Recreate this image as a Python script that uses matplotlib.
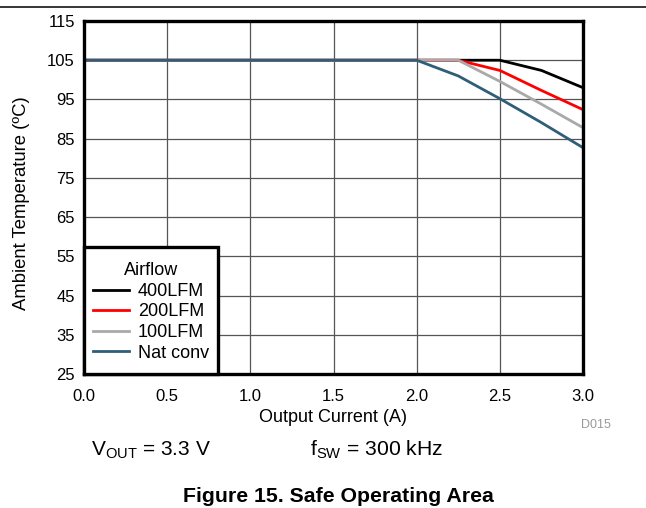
import matplotlib
matplotlib.use("Agg")
import matplotlib.pyplot as plt
from matplotlib.lines import Line2D
from matplotlib.patches import Rectangle

plt.rcParams["font.family"] = ["Liberation Sans", "DejaVu Sans"]

# output current (A) and ambient temperature limit per airflow
current_400 = [0.0, 2.5, 2.75, 3.0]
temp_400 = [105, 105, 102.4, 98.0]
current_200 = [0.0, 2.25, 2.5, 2.75, 3.0]
temp_200 = [105, 105, 102.4, 97.3, 92.4]
current_100 = [0.0, 2.25, 2.5, 2.75, 3.0]
temp_100 = [105, 105, 99.6, 93.8, 87.8]
current_nat = [0.0, 2.0, 2.25, 2.5, 2.75, 3.0]
temp_nat = [105, 105, 101.0, 95.2, 89.1, 82.7]

series_labels = ["400LFM", "200LFM", "100LFM", "Nat conv"]
series_colors = ["#000000", "#FF0000", "#A9A9A9", "#2E5E78"]

x_ticks = [0.0, 0.5, 1.0, 1.5, 2.0, 2.5, 3.0]
y_ticks = [25, 35, 45, 55, 65, 75, 85, 95, 105, 115]

W, H = 646, 508
fig = plt.figure(figsize=(W / 100, H / 100), dpi=100)
fig.patch.set_facecolor("white")

ax_l, ax_r, ax_t, ax_b = 84, 583, 21, 374
ax = fig.add_axes([ax_l / W, 1 - ax_b / H, (ax_r - ax_l) / W, (ax_b - ax_t) / H])


def ax_xy(px, py):
    # pixel position in the figure -> axes fraction
    return (px - ax_l) / (ax_r - ax_l), (ax_b - py) / (ax_b - ax_t)


series = [(current_400, temp_400), (current_200, temp_200),
          (current_100, temp_100), (current_nat, temp_nat)]
for i, ((xs, ys), lab, col) in enumerate(zip(series, series_labels, series_colors)):
    ax.plot(xs, ys, color=col, lw=2.0, label=lab, zorder=3 + i, solid_capstyle="butt")

ax.set_xlim(0, 3)
ax.set_ylim(25, 115)
ax.set_xticks(x_ticks)
ax.set_yticks(y_ticks)
ax.set_xticklabels([f"{v:.1f}" for v in x_ticks])
ax.set_yticklabels([str(v) for v in y_ticks])
ax.tick_params(length=0, labelsize=12)
ax.tick_params(axis="x", pad=11)
ax.tick_params(axis="y", pad=6.5)
ax.grid(True, color="#555555", lw=0.9, zorder=1)
for sp in ax.spines.values():
    sp.set_linewidth(2.4)
    sp.set_color("black")
    sp.set_zorder(10)

ax.set_xlabel("Output Current (A)", fontsize=13, va="baseline")
ax.xaxis.set_label_coords(*ax_xy(333, 421.5))
ax.set_ylabel("Ambient Temperature (ºC)", fontsize=13.3, va="center")
ax.yaxis.set_label_coords(*ax_xy(22, 203))

# legend box drawn by hand so its size matches, entries placed inside
fx0, fy0 = ax_xy(84, 374)
fx1, fy1 = ax_xy(218, 247)
ax.add_patch(Rectangle((fx0, fy0), fx1 - fx0, fy1 - fy0, transform=ax.transAxes,
                       facecolor="white", edgecolor="black", lw=2.4,
                       clip_on=False, zorder=20))
handles = [Line2D([], [], color=c, lw=2.0) for c in series_colors]
leg = ax.legend(handles, series_labels, title="Airflow", loc="center left",
                bbox_to_anchor=ax_xy(93.3, 312), borderaxespad=0, borderpad=0,
                frameon=False, fontsize=13, title_fontsize=13, handlelength=1.95,
                handletextpad=0.52, labelspacing=0.2)
leg.set_zorder(21)

# annotations outside the plot
fig.add_artist(Line2D([0, 1], [1 - 7 / H, 1 - 7 / H], color="black", lw=1.1))
fig.text(611 / W, 1 - 425 / H, "D015", fontsize=9, color="#9A9A9A", ha="right", va="center")
fig.text(91 / W, 1 - 455 / H, r"V$_{\mathregular{OUT}}$ = 3.3 V", fontsize=15, ha="left", va="baseline")
fig.text(310 / W, 1 - 455 / H, r"f$_{\mathregular{SW}}$ = 300 kHz", fontsize=15.2, ha="left", va="baseline")
fig.text(338 / W, 1 - 502 / H, "Figure 15. Safe Operating Area", fontsize=15.3,
         fontweight="bold", ha="center", va="baseline")

fig.savefig("out.png", dpi=100)
